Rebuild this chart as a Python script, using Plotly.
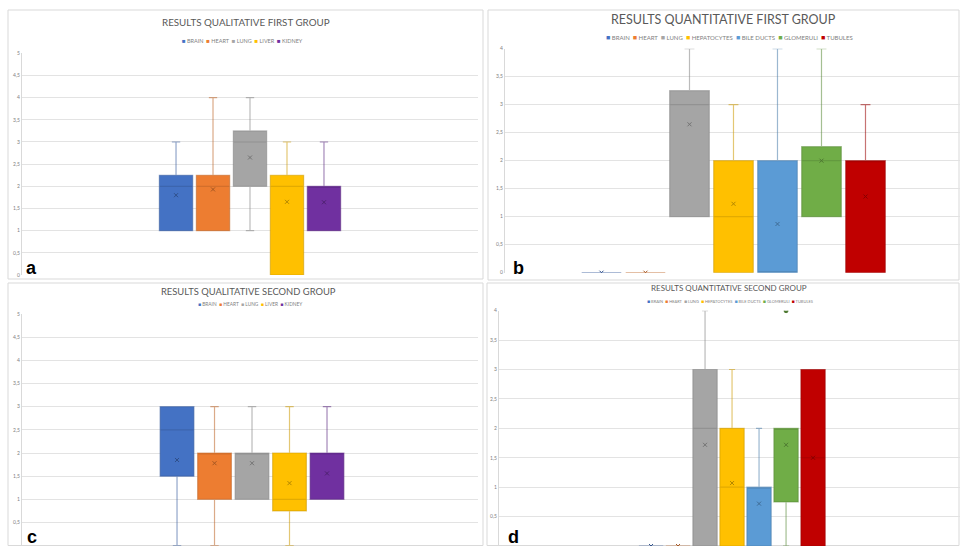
import plotly.graph_objects as go

CAT = ["GROUP"]

organs_qual = ["BRAIN", "HEART", "LUNG", "LIVER", "KIDNEY"]
organs_quant = ["BRAIN", "HEART", "LUNG", "HEPATOCYTES", "BILE DUCTS", "GLOMERULI", "TUBULES"]

colors_qual = ["#4472C4", "#ED7D31", "#A5A5A5", "#FFC000", "#7030A0"]
colors_quant = ["#4472C4", "#ED7D31", "#A5A5A5", "#FFC000", "#5B9BD5", "#70AD47", "#C00000"]

# Panel a - results qualitative first group
a_low = [1, 1, 1, 0, 1]
a_q1 = [1, 1, 2, 0, 1]
a_med = [2, 2, 3, 2, 2]
a_q3 = [2.25, 2.25, 3.25, 2.25, 2]
a_high = [3, 4, 4, 3, 3]
a_mean = [1.8, 1.93, 2.65, 1.65, 1.64]

# Panel b - results quantitative first group
b_low = [0, 0, 1, 0, 0, 1, 0]
b_q1 = [0, 0, 1, 0, 0, 1, 0]
b_med = [0, 0, 3, 1, 0, 2, 2]
b_q3 = [0, 0, 3.25, 2, 2, 2.25, 2]
b_high = [0, 0, 4, 3, 4, 4, 3]
b_mean = [0, 0, 2.65, 1.23, 0.87, 2.0, 1.36]

# Panel c - results qualitative second group
c_low = [0, 0, 1, 0, 1]
c_q1 = [1.5, 1, 1, 0.75, 1]
c_med = [2.5, 2, 2, 1, 2]
c_q3 = [3, 2, 2, 2, 2]
c_high = [3, 3, 3, 3, 3]
c_mean = [1.85, 1.78, 1.78, 1.35, 1.56]

# Panel d - results quantitative second group
d_low = [0, 0, 0, 0, 0, 0, 0]
d_q1 = [0, 0, 0, 0, 0, 0.75, 0]
d_med = [0, 0, 2, 1, 1, 2, 1.5]
d_q3 = [0, 0, 3, 2, 1, 2, 3]
d_high = [0, 0, 4, 3, 2, 2, 3]
d_mean = [0, 0, 1.72, 1.07, 0.72, 1.72, 1.5]
d_outliers = [[], [], [], [], [], [4], []]

titles = ["RESULTS QUALITATIVE FIRST GROUP", "RESULTS QUANTITATIVE FIRST GROUP",
          "RESULTS QUALITATIVE SECOND GROUP", "RESULTS QUANTITATIVE SECOND GROUP"]
panel_letters = ["a", "b", "c", "d"]


def shade(hexcol, f, alpha=1.0):
    h = hexcol.lstrip("#")
    r, g, b = (int(h[i:i + 2], 16) for i in (0, 2, 4))
    return "rgba(%d,%d,%d,%.2f)" % (int(r * f), int(g * f), int(b * f), alpha)


fig = go.Figure()

panels = [
    ("x", "y", organs_qual, colors_qual, a_low, a_q1, a_med, a_q3, a_high, a_mean, None),
    ("x2", "y2", organs_quant, colors_quant, b_low, b_q1, b_med, b_q3, b_high, b_mean, None),
    ("x3", "y3", organs_qual, colors_qual, c_low, c_q1, c_med, c_q3, c_high, c_mean, None),
    ("x4", "y4", organs_quant, colors_quant, d_low, d_q1, d_med, d_q3, d_high, d_mean, d_outliers),
]

for xa, ya, names, cols, lo, q1, med, q3, hi, mean, outl in panels:
    for i, nm in enumerate(names):
        fig.add_trace(go.Box(
            x=CAT, q1=[q1[i]], median=[med[i]], q3=[q3[i]],
            lowerfence=[lo[i]], upperfence=[hi[i]],
            name=nm, fillcolor=cols[i],
            line=dict(color=shade(cols[i], 0.8, 0.55), width=1.2),
            whiskerwidth=0.25, boxpoints=False, showlegend=False,
            alignmentgroup=xa, offsetgroup=xa + nm,
            xaxis=xa, yaxis=ya, hoverinfo="skip",
        ))
    for i, nm in enumerate(names):
        ys = [mean[i]]
        syms = ["x-thin"]
        if outl is not None:
            ys += outl[i]
            syms += ["circle"] * len(outl[i])
        fig.add_trace(go.Scatter(
            x=CAT * len(ys), y=ys, mode="markers", name=nm,
            marker=dict(symbol=syms, size=4, color=shade(cols[i], 0.7),
                        line=dict(width=1, color=shade(cols[i], 0.7))),
            showlegend=False, xaxis=xa, yaxis=ya, hoverinfo="skip",
        ))

W, H = 960.0, 546.0


def px_x(p):
    return p / W


def px_y(p):
    return 1 - p / H


axis_common = dict(showgrid=False, zeroline=False, showticklabels=False, showline=False,
                   type="category", fixedrange=True, automargin=False)
yaxis_common = dict(showgrid=True, gridcolor="#e3e3e3", gridwidth=1, zeroline=False,
                    showline=True, linecolor="#d9d9d9", linewidth=1, ticks="",
                    tickfont=dict(size=5, color="#808080"), dtick=0.5, fixedrange=True,
                    automargin=False)

fig.update_layout(
    width=960, height=546, margin=dict(l=0, r=0, t=0, b=0, pad=0, autoexpand=False),
    paper_bgcolor="white", plot_bgcolor="white",
    font=dict(family="Lato, Liberation Sans, sans-serif", color="#595959"),
    separators=",.",
    boxmode="group", boxgap=0.33, boxgroupgap=0.1,
    scattermode="group", scattergap=0.33,
    xaxis=dict(domain=[px_x(22), px_x(478)], range=[-0.826, 0.826], anchor="y", **axis_common),
    yaxis=dict(domain=[px_y(275), px_y(53.3)], range=[0, 5], anchor="x", **yaxis_common),
    xaxis2=dict(domain=[px_x(505), 1.0], range=[-0.497, 0.4927], anchor="y2", **axis_common),
    yaxis2=dict(domain=[px_y(272.7), px_y(48.7)], range=[0, 4], anchor="x2", **yaxis_common),
    xaxis3=dict(domain=[px_x(22), px_x(478)], range=[-0.822, 0.8076], anchor="y3", **axis_common),
    yaxis3=dict(domain=[px_y(545.7), px_y(314)], range=[0, 5], anchor="x3", **yaxis_common),
    xaxis4=dict(domain=[px_x(499), 1.0], range=[-0.826, 0.808], anchor="y4", **axis_common),
    yaxis4=dict(domain=[0.0, px_y(310.7)], range=[0, 4], anchor="x4", **yaxis_common),
)

# panel frames
frames = [(8, 10, 483, 279), (488, 10, 959, 280), (8, 283, 483, 545.5), (487, 283, 959, 545.5)]
for x0, y0, x1, y1 in frames:
    fig.add_shape(type="rect", xref="paper", yref="paper",
                  x0=px_x(x0), x1=px_x(x1), y0=px_y(y1), y1=px_y(y0),
                  line=dict(color="#d9d9d9", width=1), layer="below")

# titles
title_pos = [(246, 22, 9.8), (723, 20, 12.5), (248, 291, 9.4), (729, 288, 8)]
for t, (cx, cy, fs) in zip(titles, title_pos):
    fig.add_annotation(text=t, x=px_x(cx), y=px_y(cy), xref="paper", yref="paper",
                       showarrow=False, font=dict(size=fs, color="#595959"),
                       xanchor="center", yanchor="middle")


def legend_text(names, cols, sq):
    parts = []
    for nm, c in zip(names, cols):
        parts.append('<span style="font-size:%dpx;color:%s">■</span> %s' % (sq, c, nm))
    return "  ".join(parts)


legend_pos = [(242, 41, organs_qual, colors_qual, 6, 5.5),
              (729, 37, organs_quant, colors_quant, 7, 6),
              (250, 304, organs_qual, colors_qual, 5, 4.8),
              (730, 301, organs_quant, colors_quant, 5, 4)]
for cx, cy, names, cols, sq, fs in legend_pos:
    fig.add_annotation(text=legend_text(names, cols, sq), x=px_x(cx), y=px_y(cy),
                       xref="paper", yref="paper", showarrow=False,
                       font=dict(size=fs, color="#7f7f7f"),
                       xanchor="center", yanchor="middle")

# panel letters
letter_pos = [(24, 268), (511, 268), (25, 537), (506, 537)]
for L, (lx, ly) in zip(panel_letters, letter_pos):
    fig.add_annotation(text="<b>%s</b>" % L, x=px_x(lx), y=px_y(ly), xref="paper", yref="paper",
                       showarrow=False, font=dict(size=18, color="black",
                                                  family="Liberation Sans, Arial, sans-serif"),
                       xanchor="left", yanchor="middle")

fig.write_html("out.html", config={"displayModeBar": False},
               post_script="document.body.style.margin='0px';document.body.style.overflow='hidden';")
